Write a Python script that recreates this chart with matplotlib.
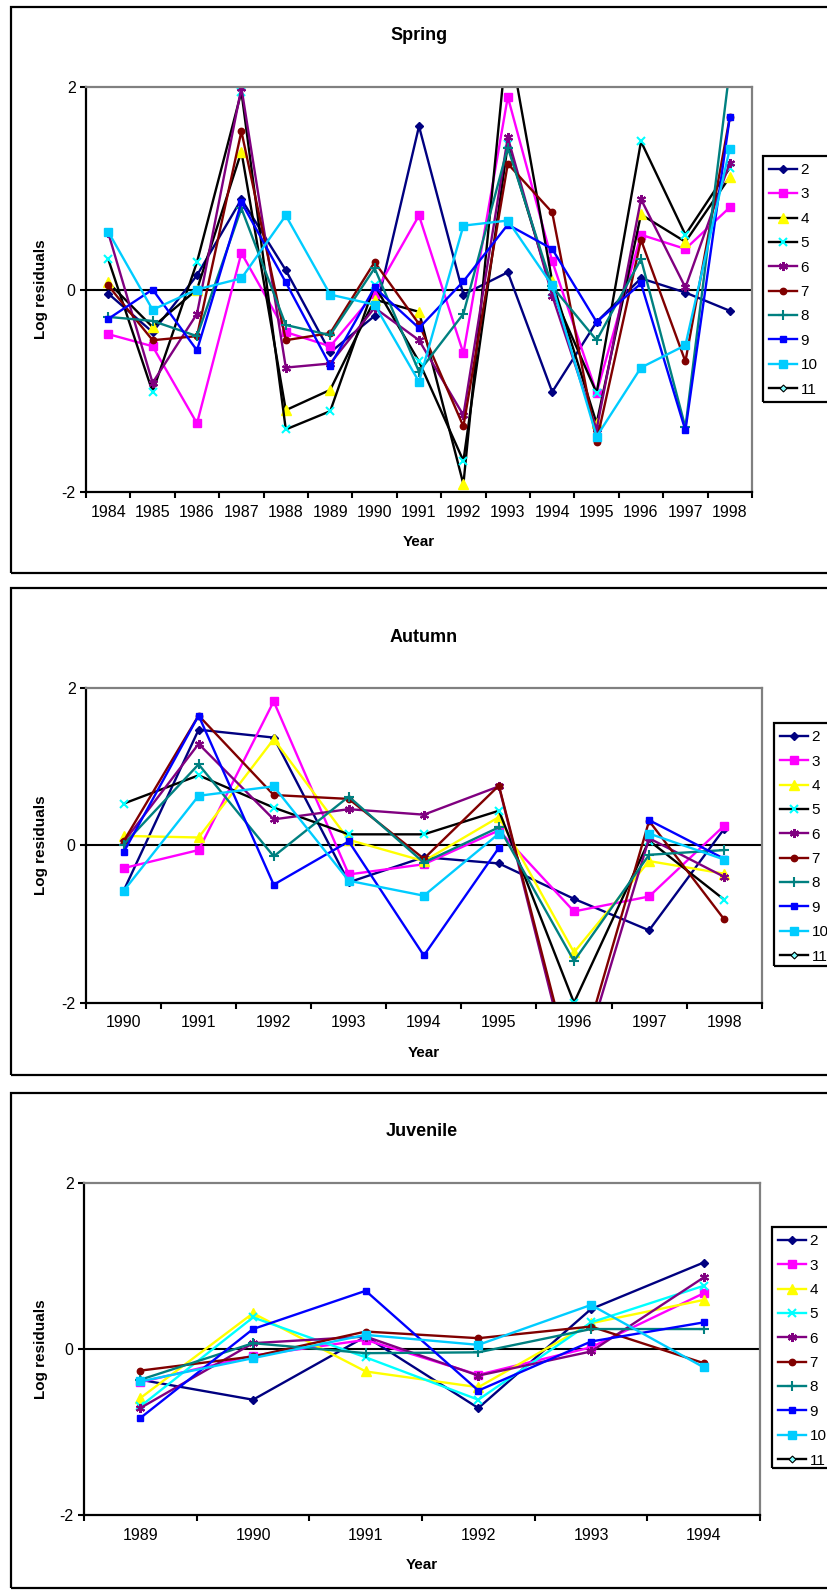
import numpy as np
import matplotlib
matplotlib.use('Agg')
import matplotlib.pyplot as plt
from matplotlib.patches import Rectangle

plt.rcParams['font.family'] = ['Liberation Sans', 'DejaVu Sans']
plt.rcParams['axes.unicode_minus'] = False

nan = np.nan

# ---- Spring (1984-1998) ----
spring_years = ['1984', '1985', '1986', '1987', '1988', '1989', '1990', '1991',
                '1992', '1993', '1994', '1995', '1996', '1997', '1998']
spring_2 = [-0.04, -0.42, 0.14, 0.89, 0.19, -0.62, -0.26, 1.61, -0.05, 0.17, -1.01, -0.32, 0.11, -0.03, -0.21]
spring_3 = [-0.44, -0.56, -1.32, 0.36, -0.42, -0.56, -0.04, 0.73, -0.63, 1.90, 0.28, -1.02, 0.54, 0.40, 0.81]
spring_4 = [0.07, -0.37, 0.00, 1.36, -1.19, -0.99, -0.10, -0.22, -1.92, 2.53, 0.08, -1.32, 0.74, 0.47, 1.11]
spring_5 = [0.30, -1.01, 0.27, 1.95, -1.38, -1.20, 0.04, -0.71, -1.69, 1.43, -0.02, -1.02, 1.46, 0.54, 1.20]
spring_6 = [0.56, -0.92, -0.24, 1.99, -0.77, -0.73, -0.18, -0.50, -1.24, 1.50, -0.06, -1.38, 0.89, 0.02, 1.25]
spring_7 = [0.04, -0.50, -0.46, 1.56, -0.50, -0.43, 0.27, -0.34, -1.35, 1.24, 0.76, -1.50, 0.49, -0.71, 1.70]
spring_8 = [-0.27, -0.31, -0.46, 0.80, -0.35, -0.45, 0.21, -0.81, -0.24, 1.40, 0.03, -0.50, 0.30, -1.36, 2.18]
spring_9 = [-0.29, 0.00, -0.60, 0.86, 0.07, -0.75, 0.02, -0.38, 0.08, 0.64, 0.40, -0.32, 0.06, -1.39, 1.70]
spring_10 = [0.57, -0.20, 0.00, 0.11, 0.73, -0.05, -0.15, -0.91, 0.63, 0.68, 0.04, -1.45, -0.77, -0.55, 1.39]
spring_11 = []

# ---- Autumn (1990-1998) ----
autumn_years = ['1990', '1991', '1992', '1993', '1994', '1995', '1996', '1997', '1998']
autumn_2 = [-0.58, 1.47, 1.37, -0.47, -0.15, -0.23, -0.68, -1.08, 0.21]
autumn_3 = [-0.29, -0.06, 1.83, -0.37, -0.24, 0.19, -0.84, -0.65, 0.25]
autumn_4 = [0.12, 0.10, 1.35, 0.07, -0.20, 0.36, -1.36, -0.20, -0.36]
autumn_5 = [0.53, 0.89, 0.48, 0.14, 0.14, 0.44, -2.00, 0.06, -0.69]
autumn_6 = [0.04, 1.29, 0.33, 0.46, 0.39, 0.75, -3.08, 0.09, -0.40]
autumn_7 = [0.05, 1.65, 0.64, 0.59, -0.17, 0.76, -2.97, 0.31, -0.94]
autumn_8 = [0.01, 1.03, -0.14, 0.62, -0.22, 0.23, -1.47, -0.12, -0.06]
autumn_9 = [-0.09, 1.65, -0.50, 0.05, -1.40, -0.03, nan, 0.32, -0.17]
autumn_10 = [-0.58, 0.63, 0.75, -0.45, -0.64, 0.15, nan, 0.15, -0.18]
autumn_11 = []

# ---- Juvenile (1989-1994) ----
juvenile_years = ['1989', '1990', '1991', '1992', '1993', '1994']
juvenile_2 = [-0.37, -0.61, 0.15, -0.71, 0.48, 1.04]
juvenile_3 = [-0.40, -0.08, 0.11, -0.31, 0.02, 0.67]
juvenile_4 = [-0.59, 0.43, -0.27, -0.46, 0.31, 0.59]
juvenile_5 = [-0.69, 0.38, -0.10, -0.61, 0.32, 0.76]
juvenile_6 = [-0.71, 0.07, 0.15, -0.32, -0.03, 0.86]
juvenile_7 = [-0.26, -0.09, 0.21, 0.13, 0.27, -0.17]
juvenile_8 = [-0.37, 0.07, -0.05, -0.04, 0.24, 0.24]
juvenile_9 = [-0.83, 0.24, 0.70, -0.50, 0.09, 0.32]
juvenile_10 = [-0.39, -0.11, 0.17, 0.05, 0.53, -0.22]
juvenile_11 = []

series_names = ['2', '3', '4', '5', '6', '7', '8', '9', '10', '11']

# Excel-style palette and markers per series
COL = {'2': '#000080', '3': '#FF00FF', '4': '#FFFF00', '5': '#00FFFF', '6': '#800080',
       '7': '#800000', '8': '#008080', '9': '#0000FF', '10': '#00CCFF', '11': '#000000'}
MARK = {
    '2': dict(marker='D', ms=3.8, mfc='#000080', mec='#000080'),
    '3': dict(marker='s', ms=6.2, mfc='#FF00FF', mec='#FF00FF'),
    '4': dict(marker='^', ms=6.5, mfc='#FFFF00', mec='#FFFF00'),
    '5': dict(marker='x', ms=5.5, mec='#00FFFF', mew=1.5),
    '6': dict(marker=(6, 2, 0), ms=6.5, mec='#800080', mew=1.5),
    '7': dict(marker='o', ms=4.6, mfc='#800000', mec='#800000'),
    '8': dict(marker='+', ms=7, mec='#008080', mew=1.5),
    '9': dict(marker='s', ms=4, mfc='#0000FF', mec='#0000FF'),
    '10': dict(marker='s', ms=5.5, mfc='#00CCFF', mec='#00CCFF'),
    '11': dict(marker='D', ms=3.5, mfc='#80FFFF', mec='#000000', mew=0.8),
}

W, H = 827, 1591
fig = plt.figure(figsize=(W / 100, H / 100), dpi=100)


def fx(px):
    return px / W


def fy(py):
    return 1 - py / H


def draw_panel(box, area, leg_box, title, years, values, line_cols):
    bx0, by0, bx1, by1 = box
    fig.patches.append(Rectangle((fx(bx0), fy(by1)), (bx1 - bx0) / W, (by1 - by0) / H,
                                 transform=fig.transFigure, fill=False, ec='black', lw=1.6))
    x0, y0, x1, y1 = area
    ax = fig.add_axes([fx(x0), fy(y1), (x1 - x0) / W, (y1 - y0) / H])

    n = len(years)
    xs = np.arange(n)
    ax.axhline(0, color='black', lw=1.5, zorder=1)
    handles = []
    for name, vals in zip(series_names, values):
        lc = line_cols.get(name, COL[name])
        ln, = ax.plot(xs[:len(vals)], vals, color=lc, lw=1.7, zorder=2, **MARK[name])
        handles.append(ln)

    ax.set_xlim(-0.5, n - 0.5)
    ax.set_ylim(-2, 2)
    ax.set_yticks([-2, 0, 2])
    ax.set_yticklabels(['-2', '0', '2'], fontsize=11.5)
    ax.set_xticks(np.arange(n + 1) - 0.5)
    ax.set_xticklabels([])
    ax.set_xticks(xs, minor=True)
    ax.set_xticklabels(years, minor=True, fontsize=11.5)
    ax.tick_params(axis='x', which='major', direction='out', length=4, width=1.5)
    ax.tick_params(axis='x', which='minor', length=0, pad=9)
    ax.tick_params(axis='y', direction='out', length=4.5, width=1.5, pad=3)
    for s in ['left', 'bottom']:
        ax.spines[s].set_color('black')
        ax.spines[s].set_linewidth(1.6)
    for s in ['top', 'right']:
        ax.spines[s].set_color('#808080')
        ax.spines[s].set_linewidth(1.6)

    cx = (x0 + x1) / 2
    fig.text(fx(cx), fy(y0 - 51), title, ha='center', va='center', fontsize=13, fontweight='bold')
    fig.text(fx(cx), fy(y1 + 50), 'Year', ha='center', va='center', fontsize=11, fontweight='bold')
    fig.text(fx(41), fy((y0 + y1) / 2), 'Log residuals', ha='center', va='center',
             rotation=90, fontsize=11, fontweight='bold')

    # legend box runs past the right edge of the page
    lx0, ly0, ly1 = leg_box
    fig.patches.append(Rectangle((fx(lx0), fy(ly1)), (870 - lx0) / W, (ly1 - ly0) / H,
                                 transform=fig.transFigure, fill=False, ec='black', lw=1.6))
    ax.legend(handles, series_names, loc='upper left',
              bbox_to_anchor=(fx(lx0), fy(ly0 + 1)), bbox_transform=fig.transFigure,
              frameon=False, fontsize=11, numpoints=1, handlelength=1.85,
              handletextpad=0.2, labelspacing=0.68, borderpad=0.4, borderaxespad=0)
    return ax


draw_panel((11, 7, 870, 573), (86, 86.7, 752, 492.3), (763, 156, 402), 'Spring', spring_years,
           [spring_2, spring_3, spring_4, spring_5, spring_6, spring_7, spring_8,
            spring_9, spring_10, spring_11],
           {'4': 'black', '5': 'black'})

draw_panel((11, 588, 870, 1075), (86, 688, 761.7, 1002.7), (774, 723, 966), 'Autumn', autumn_years,
           [autumn_2, autumn_3, autumn_4, autumn_5, autumn_6, autumn_7, autumn_8,
            autumn_9, autumn_10, autumn_11],
           {'5': 'black'})

draw_panel((11, 1093, 870, 1588), (84, 1182.7, 760, 1515.3), (772, 1227, 1468), 'Juvenile', juvenile_years,
           [juvenile_2, juvenile_3, juvenile_4, juvenile_5, juvenile_6, juvenile_7, juvenile_8,
            juvenile_9, juvenile_10, juvenile_11],
           {})

fig.savefig('out.png', dpi=100)
